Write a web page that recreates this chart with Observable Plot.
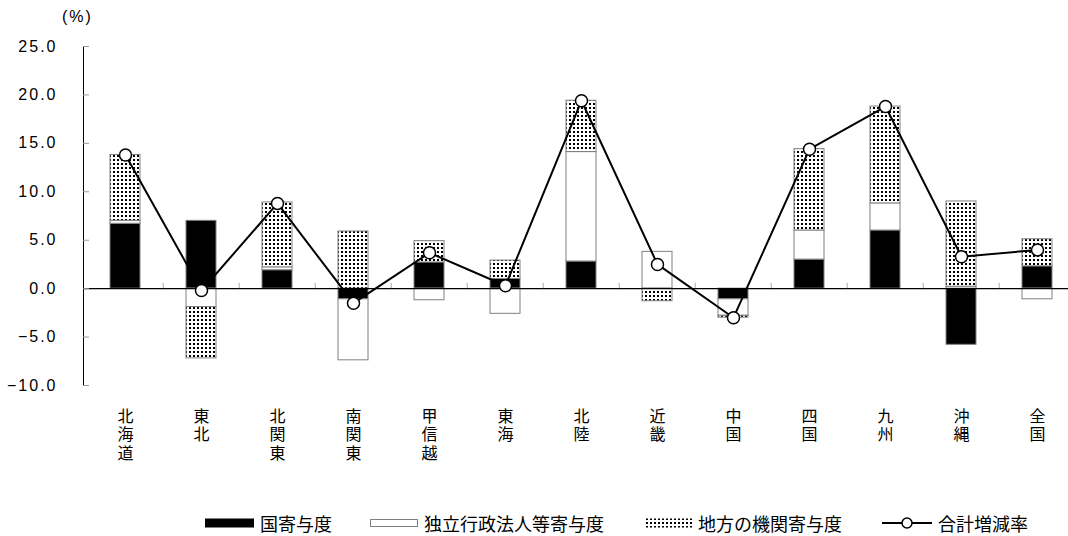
<!DOCTYPE html>
<html><head><meta charset="utf-8">
<script src="https://cdn.jsdelivr.net/npm/d3@7"></script>
<script src="https://cdn.jsdelivr.net/npm/@observablehq/plot@0.6"></script>
<style>
body{margin:0;background:#fff;color:#000;font-family:"Liberation Sans","Noto Sans CJK JP",sans-serif;}
#wrap{position:relative;width:1068px;height:536px;overflow:hidden;background:#fff;}
#unit{position:relative;height:30px;}
#unit span{position:absolute;left:62px;top:8px;font-size:16px;letter-spacing:2px;}
#chart{height:475px;}
#legend{position:relative;height:31px;font-family:"Noto Sans CJK JP",sans-serif;font-size:18px;}
.item{position:absolute;top:8px;height:20px;line-height:20px;display:flex;align-items:center;white-space:nowrap;}
.item svg{display:block;margin-right:6px;}
g[aria-label="y-axis tick label"] text{letter-spacing:2px;}
g[aria-label="x-axis tick label"] text{font-size:16px;writing-mode:vertical-rl;text-orientation:upright;letter-spacing:2.3px;}
</style>
</head><body>
<div id="wrap">
  <div id="unit"><span>(%)</span></div>
  <div id="chart"></div>
  <div id="legend"></div>
</div>
<script>
// ---- data ----
const regions = ["北海道","東北","北関東","南関東","甲信越","東海","北陸","近畿","中国","四国","九州","沖縄","全国"];
const seriesNames = ["国寄与度","独立行政法人等寄与度","地方の機関寄与度"];
const national    = [6.7, 7.0, 1.9, -1.1, 2.7, 1.0, 2.8, 0.0, -1.1, 3.0, 6.0, -5.8, 2.3];
const independent = [0.3, -1.9, 0.3, -6.3, -1.2, -2.6, 11.3, 3.8, -1.7, 3.0, 2.8, 0.2, -1.1];
const local       = [6.8, -5.3, 6.7, 5.9, 2.2, 1.9, 5.3, -1.3, -0.2, 8.4, 10.0, 8.8, 2.8];
const total       = [13.8, -0.2, 8.8, -1.5, 3.7, 0.3, 19.4, 2.5, -3.0, 14.4, 18.8, 3.3, 4.0];
const totalName = "合計増減率";
const yTicks = [-10, -5, 0, 5, 10, 15, 20, 25];

// ---- tables for the library ----
const seriesValues = [national, independent, local];
const stacked = [];
seriesNames.forEach((s, k) => regions.forEach((r, i) => stacked.push({region: r, series: s, value: seriesValues[k][i]})));
const rows = regions.map((r, i) => ({region: r, total: total[i]}));

const chart = Plot.plot({
  width: 1068, height: 475,
  marginLeft: 83, marginRight: 0, marginTop: 16, marginBottom: 120,
  style: {fontFamily: '"Liberation Sans","Noto Sans CJK JP",sans-serif', background: "#fff", color: "#000", overflow: "visible"},
  x: {domain: regions, range: [83, 1079], paddingInner: 0.6, paddingOuter: 0.3, align: 0.5},
  y: {domain: [-10, 25]},
  color: {domain: seriesNames, range: ["#000", "#fff", "url(#dots)"]},
  marks: [
    Plot.barY(stacked, Plot.stackY({x: "region", y: "value", fill: "series", stroke: "#808080", strokeWidth: 1})),
    Plot.ruleY([0], {stroke: "#000", strokeWidth: 1.2}),
    Plot.ruleX(regions.slice(1), {x: d => d, y1: 0, y2: 0.55, dx: -38.3, stroke: "#aaa"}),
    Plot.frame({anchor: "left", stroke: "#000"}),
    Plot.axisY({ticks: yTicks, tickSize: -6, stroke: "#999", tickFormat: () => "", label: null}),
    Plot.axisY({ticks: yTicks, tickSize: 0, tickPadding: 26, tickFormat: d3.format(".1f"), fontSize: 16, label: null}),
    Plot.axisX({tickSize: 0, tickPadding: 11, textAnchor: "start", fontSize: 16, label: null, fontFamily: '"Noto Sans CJK JP",sans-serif'}),
    Plot.line(rows, {x: "region", y: "total", stroke: "#000", strokeWidth: 2}),
    Plot.dot(rows, {x: "region", y: "total", r: 6, fill: "#fff", stroke: "#000", strokeWidth: 1.5})
  ]
});
const ns = "http://www.w3.org/2000/svg";
const defs = document.createElementNS(ns, "defs");
defs.innerHTML = '<pattern id="dots" width="4" height="4" patternUnits="userSpaceOnUse"><rect width="4" height="4" fill="#fff"/><rect x="1" y="1" width="2" height="2" fill="#000"/></pattern>';
chart.insertBefore(defs, chart.firstChild);
document.getElementById("chart").appendChild(chart);

// ---- legend ----
const legend = document.getElementById("legend");
const swatches = [
  {left: 205, svg: '<svg width="49" height="12"><rect x="0" y="1.5" width="49" height="9" fill="#000"/></svg>', label: seriesNames[0]},
  {left: 370, svg: '<svg width="48" height="12"><rect x="0.5" y="2.5" width="47" height="7" fill="#fff" stroke="#808080"/></svg>', label: seriesNames[1]},
  {left: 645, svg: '<svg width="47" height="12"><rect x="0" y="1.5" width="47" height="9" fill="url(#dots)"/></svg>', label: seriesNames[2]},
  {left: 882, svg: '<svg width="50" height="14"><line x1="0" x2="50" y1="7" y2="7" stroke="#000" stroke-width="2"/><circle cx="25" cy="7" r="5" fill="#fff" stroke="#000" stroke-width="1.5"/></svg>', label: totalName}
];
swatches.forEach(s => {
  const d = document.createElement("div");
  d.className = "item";
  d.style.left = s.left + "px";
  d.innerHTML = s.svg + "<span>" + s.label + "</span>";
  legend.appendChild(d);
});
</script>
</body></html>
